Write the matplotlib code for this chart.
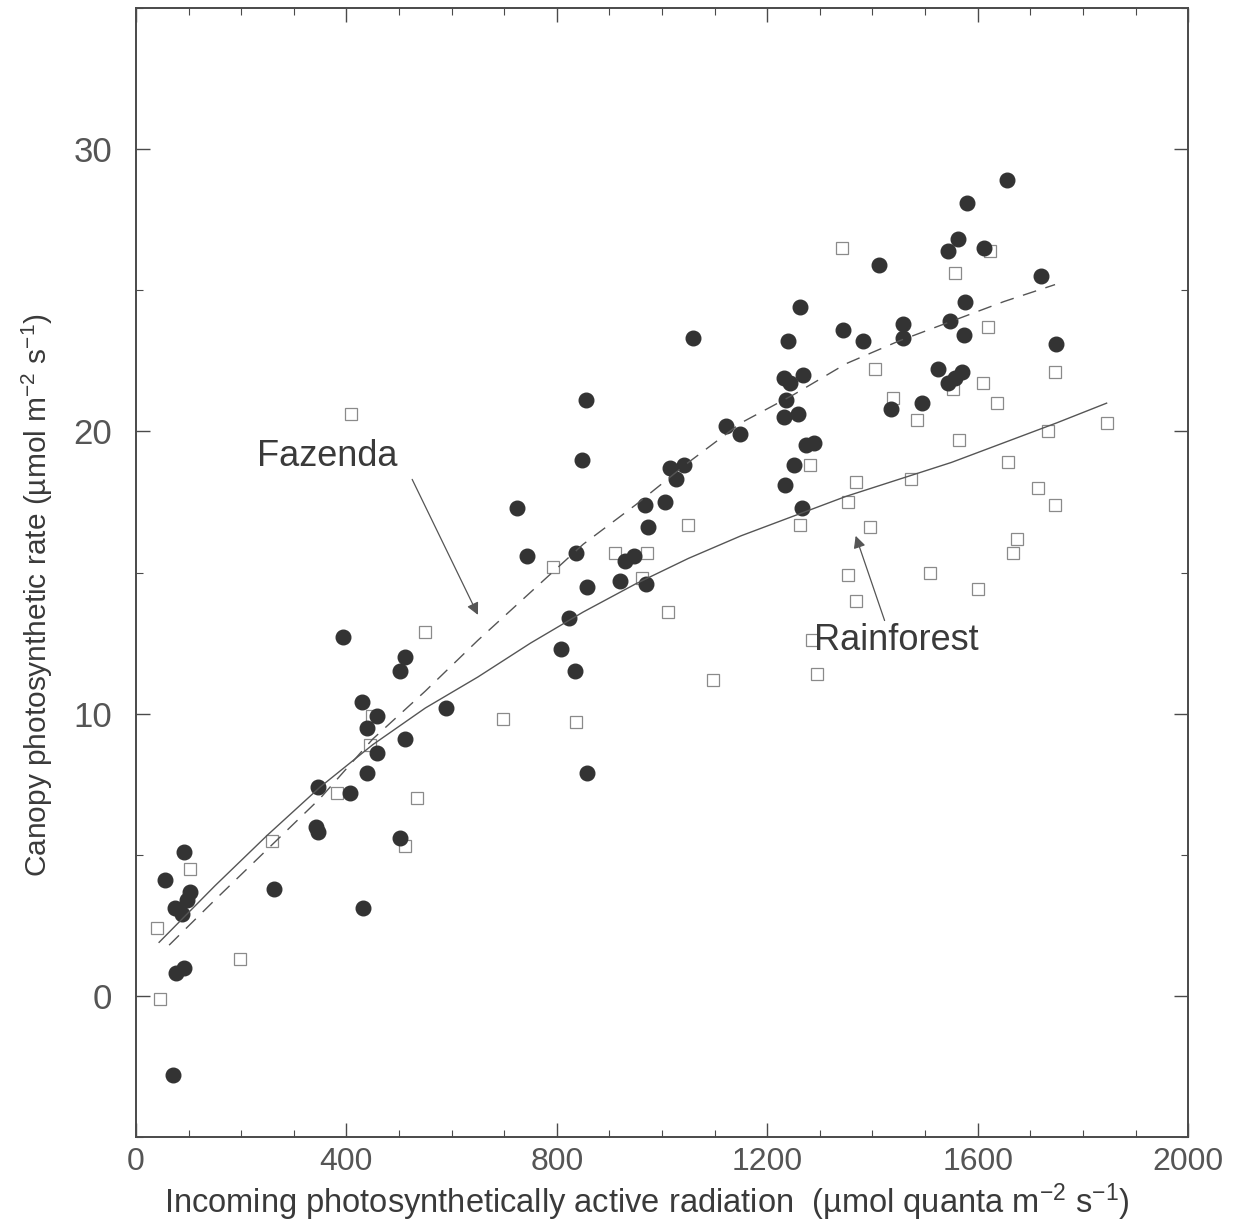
"""
Canopy photosynthetic rate vs incoming PAR, Fazenda (pasture) and Rainforest.
"""

import matplotlib
matplotlib.use("Agg")
import matplotlib.pyplot as plt
from matplotlib.ticker import MultipleLocator

# Fazenda (filled circles)
faz_par = [55, 91, 74, 87, 103, 97, 76, 91, 70, 262, 346, 342, 346, 393, 407,
           429, 439, 439, 458, 458, 431, 502, 511, 511, 502, 589, 724, 743,
           808, 823, 834, 836, 848, 855, 857, 857, 920, 929, 946, 967, 969,
           973, 1005, 1015, 1026, 1041, 1059, 1121, 1148, 1231, 1233, 1231,
           1235, 1239, 1243, 1251, 1258, 1262, 1268, 1266, 1273, 1289, 1344,
           1382, 1412, 1435, 1458, 1458, 1494, 1524, 1543, 1547, 1543, 1556,
           1562, 1570, 1575, 1573, 1579, 1612, 1655, 1720, 1748]
faz_rate = [4.1, 5.1, 3.1, 2.9, 3.7, 3.4, 0.8, 1.0, -2.8, 3.8, 7.4, 6.0, 5.8,
            12.7, 7.2, 10.4, 9.5, 7.9, 9.9, 8.6, 3.1, 11.5, 12.0, 9.1, 5.6,
            10.2, 17.3, 15.6, 12.3, 13.4, 11.5, 15.7, 19.0, 21.1, 14.5, 7.9,
            14.7, 15.4, 15.6, 17.4, 14.6, 16.6, 17.5, 18.7, 18.3, 18.8, 23.3,
            20.2, 19.9, 20.5, 18.1, 21.9, 21.1, 23.2, 21.7, 18.8, 20.6, 24.4,
            22.0, 17.3, 19.5, 19.6, 23.6, 23.2, 25.9, 20.8, 23.8, 23.3, 21.0,
            22.2, 26.4, 23.9, 21.7, 21.9, 26.8, 22.1, 24.6, 23.4, 28.1, 26.5,
            28.9, 25.5, 23.1]

# Rainforest (open squares)
rf_par = [40, 46, 103, 198, 258, 409, 382, 549, 448, 445, 534, 511, 698, 836,
          792, 910, 971, 962, 1011, 1049, 1097, 1281, 1262, 1285, 1294, 1619,
          1404, 1439, 1610, 1636, 1484, 1553, 1564, 1657, 1368, 1473, 1353,
          1395, 1714, 1674, 1667, 1353, 1509, 1368, 1600, 1733, 1747, 1845,
          1747, 1556, 1623, 1342]
rf_rate = [2.4, -0.1, 4.5, 1.3, 5.5, 20.6, 7.2, 12.9, 9.9, 8.9, 7.0, 5.3, 9.8,
           9.7, 15.2, 15.7, 15.7, 14.8, 13.6, 16.7, 11.2, 18.8, 16.7, 12.6,
           11.4, 23.7, 22.2, 21.2, 21.7, 21.0, 20.4, 21.5, 19.7, 18.9, 18.2,
           18.3, 17.5, 16.6, 18.0, 16.2, 15.7, 14.9, 15.0, 14.0, 14.4, 20.0,
           22.1, 20.3, 17.4, 25.6, 26.4, 26.5]

# fitted curves
faz_fit_par = [63, 150, 250, 350, 450, 550, 650, 750, 850, 950, 1050, 1150,
               1250, 1350, 1450, 1550, 1650, 1747]
faz_fit_rate = [1.8, 3.4, 5.2, 7.0, 9.1, 10.8, 12.6, 14.3, 16.0, 17.4, 18.9,
                20.3, 21.3, 22.4, 23.2, 23.9, 24.6, 25.2]
rf_fit_par = [44, 150, 250, 350, 450, 550, 650, 750, 850, 950, 1050, 1150,
              1250, 1350, 1450, 1550, 1650, 1750, 1845]
rf_fit_rate = [1.9, 3.9, 5.7, 7.4, 8.9, 10.2, 11.3, 12.5, 13.6, 14.6, 15.5,
               16.3, 17.0, 17.7, 18.3, 18.9, 19.6, 20.3, 21.0]

plt.rcParams["font.family"] = ["Liberation Sans", "DejaVu Sans"]
plt.rcParams["mathtext.default"] = "regular"
gris = "#4a4a4a"
texto = "#3a3a3a"

fig = plt.figure(figsize=(12.52, 12.24), dpi=100)
ax = fig.add_axes([0.1086, 0.071, 0.8404, 0.9225])

ax.plot(rf_par, rf_rate, "s", ms=8.5, mfc="white", mec="#8a8a8a", mew=0.9,
        zorder=2)
ax.plot(faz_par, faz_rate, "o", ms=10.5, mfc="#333333", mec="#333333",
        zorder=3)
ax.plot(rf_fit_par, rf_fit_rate, "-", color="#555555", lw=1.0, zorder=4)
ax.plot(faz_fit_par, faz_fit_rate, color="#555555", lw=1.0,
        dashes=(10, 7), zorder=4)

# etiquetas y flechas
ax.text(363, 19.1, "Fazenda", fontsize=26, color=texto,
        ha="center", va="center")
ax.annotate("", xy=(650, 13.5), xytext=(525, 18.3),
            arrowprops=dict(arrowstyle="-|>", color="#555555", lw=0.9,
                            mutation_scale=18, shrinkA=0, shrinkB=0))
ax.text(1445, 12.6, "Rainforest", fontsize=26, color=texto,
        ha="center", va="center")
ax.annotate("", xy=(1368, 16.3), xytext=(1423, 13.3),
            arrowprops=dict(arrowstyle="-|>", color="#555555", lw=0.9,
                            mutation_scale=18, shrinkA=0, shrinkB=0))

ax.set_xlim(0, 2000)
ax.set_ylim(-5, 35)
ax.set_xticks([0, 400, 800, 1200, 1600, 2000])
ax.set_yticks([0, 10, 20, 30])
ax.xaxis.set_minor_locator(MultipleLocator(100))
ax.yaxis.set_minor_locator(MultipleLocator(5))
ax.tick_params(which="both", direction="in", top=True, right=True,
               colors=gris, labelcolor="#555555")
ax.tick_params(which="major", length=10, width=1.0)
ax.tick_params(which="minor", length=5, width=0.8)
ax.tick_params(axis="x", labelsize=23, pad=7)
ax.tick_params(axis="y", labelsize=25, pad=17)
for s in ax.spines.values():
    s.set_color(gris)
    s.set_linewidth(1.4)

ax.set_xlabel("Incoming photosynthetically active radiation  (µmol quanta m$^{-2}$ s$^{-1}$)",
              fontsize=23.5, color=texto)
ax.xaxis.set_label_coords(0.485, -0.039)
ax.set_ylabel("Canopy photosynthetic rate (µmol m$^{-2}$ s$^{-1}$)",
              fontsize=21.5, color=texto)
ax.yaxis.set_label_coords(-0.077, 0.48)

plt.savefig("out.png", dpi=100)
